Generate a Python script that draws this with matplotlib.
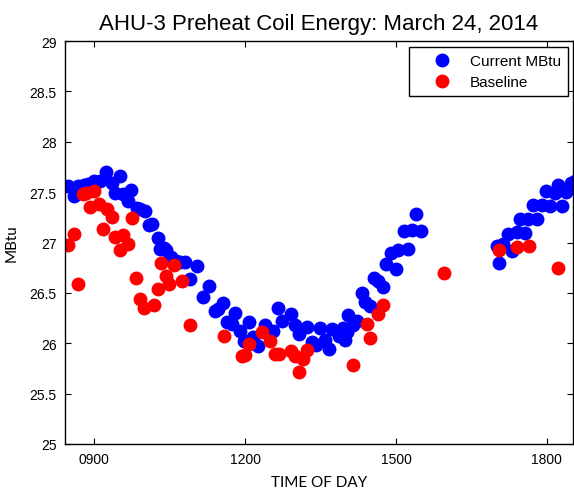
import matplotlib
matplotlib.use('Agg')
import matplotlib.pyplot as plt
from matplotlib.ticker import FormatStrFormatter

# time of day in hours, energy in MBtu
cur_hour = [8.49, 8.59, 8.67, 8.79, 8.88, 8.99, 9.12, 9.24, 9.35, 9.41, 9.51, 9.58, 9.68, 9.74,
            9.85, 9.92, 10.01, 10.10, 10.15, 10.26, 10.31, 10.38, 10.43, 10.52, 10.62, 10.71,
            10.81, 10.91, 11.04, 11.17, 11.28, 11.40, 11.46, 11.57, 11.65, 11.74, 11.80, 11.90,
            11.97, 12.08, 12.16, 12.26, 12.40, 12.55, 12.66, 12.73, 12.91, 12.99, 13.08, 13.23,
            13.33, 13.41, 13.49, 13.59, 13.67, 13.72, 13.87, 13.95, 13.99, 14.03, 14.05, 14.15,
            14.23, 14.32, 14.38, 14.48, 14.57, 14.65, 14.74, 14.81, 14.90, 15.00, 15.05, 15.15,
            15.23, 15.31, 15.39, 15.50,
            17.00, 17.05, 17.13, 17.23, 17.30, 17.40, 17.46, 17.56, 17.63, 17.73, 17.80, 17.90,
            17.99, 18.06, 18.16, 18.23, 18.31, 18.39, 18.47, 18.56]
cur_mbtu = [27.56, 27.46, 27.56, 27.57, 27.58, 27.61, 27.61, 27.70, 27.59, 27.49, 27.66, 27.48,
            27.41, 27.52, 27.34, 27.33, 27.31, 27.17, 27.18, 27.04, 26.94, 26.95, 26.93, 26.86,
            26.82, 26.81, 26.81, 26.64, 26.77, 26.46, 26.57, 26.32, 26.34, 26.40, 26.21, 26.19,
            26.30, 26.12, 26.02, 26.21, 26.06, 25.97, 26.18, 26.12, 26.35, 26.22, 26.29, 26.18,
            26.09, 26.16, 26.01, 25.98, 26.15, 26.03, 25.94, 26.14, 26.07, 26.15, 26.03, 26.11,
            26.28, 26.18, 26.22, 26.50, 26.41, 26.37, 26.65, 26.62, 26.56, 26.79, 26.90, 26.74,
            26.93, 27.11, 26.94, 27.12, 27.28, 27.11,
            26.97, 26.80, 26.99, 27.08, 26.92, 27.10, 27.23, 27.09, 27.23, 27.37, 27.23, 27.37,
            27.51, 27.36, 27.49, 27.57, 27.36, 27.50, 27.59, 27.61]

base_hour = [8.49, 8.60, 8.67, 8.77, 8.84, 8.92, 9.00, 9.09, 9.18, 9.25, 9.35, 9.42, 9.52, 9.58,
             9.68, 9.75, 9.83, 9.92, 10.00, 10.18, 10.27, 10.33, 10.42, 10.49, 10.58, 10.74,
             10.91, 11.59, 11.93, 12.00, 12.07, 12.33, 12.50, 12.59, 12.68, 12.91, 12.99, 13.08,
             13.15, 13.24, 14.15, 14.42, 14.48, 14.65, 14.74, 15.96, 17.05, 17.40, 17.64, 18.22]
base_mbtu = [26.98, 27.08, 26.59, 27.48, 27.49, 27.35, 27.51, 27.38, 27.13, 27.33, 27.25, 27.05,
             26.93, 27.07, 26.99, 27.24, 26.65, 26.44, 26.35, 26.38, 26.54, 26.80, 26.67, 26.59,
             26.78, 26.62, 26.18, 26.07, 25.87, 25.88, 25.99, 26.11, 26.02, 25.89, 25.89, 25.92,
             25.87, 25.71, 25.84, 25.93, 25.78, 26.19, 26.05, 26.29, 26.38, 26.70, 26.93, 26.96,
             26.97, 26.75]

xticks = [9, 12, 15, 18]
xtick_labels = ['0900', '1200', '1500', '1800']

fig = plt.figure(figsize=(5.74, 4.89), dpi=100)
ax = fig.add_axes([0.1132, 0.09, 0.8851, 0.824])

ax.plot(cur_hour, cur_mbtu, 'o', color='#0000ff', markersize=9, label='Current MBtu')
ax.plot(base_hour, base_mbtu, 'o', color='#ff0000', markersize=9, label='Baseline')

ax.set_xlim(8.42, 18.52)
ax.set_ylim(25, 29)
ax.set_xticks(xticks)
ax.set_xticklabels(xtick_labels)
ax.set_yticks([25 + 0.5 * i for i in range(9)])
ax.yaxis.set_major_formatter(FormatStrFormatter('%g'))
ax.tick_params(direction='in', top=True, right=True, length=4, width=0.8, labelsize=10, pad=6)
for lab in ax.get_xticklabels() + ax.get_yticklabels():
	lab.set_family('Liberation Sans')
for s in ax.spines.values():
	s.set_linewidth(1.0)
	s.set_color('black')

ax.set_title('AHU-3 Preheat Coil Energy: March 24, 2014', family='Liberation Sans', fontsize=16, pad=9)
ax.set_xlabel('TIME OF DAY', family='Lato', fontsize=11, labelpad=6)
ax.set_ylabel('MBtu', family='Lato', fontsize=11, labelpad=8)

leg = ax.legend(loc='upper right', bbox_to_anchor=(0.990, 0.985), borderaxespad=0,
	prop={'family': 'Liberation Sans', 'size': 11},
	fancybox=False, edgecolor='black', framealpha=1, handletextpad=0.15, borderpad=0.45, labelspacing=0.45,
	handlelength=3.4, numpoints=1)
leg.get_frame().set_linewidth(1.0)

fig.savefig('out.png', dpi=100)
